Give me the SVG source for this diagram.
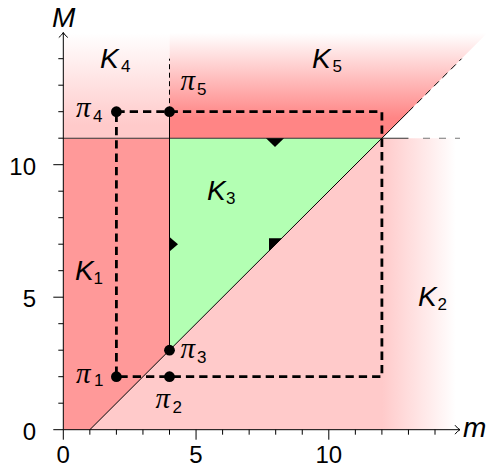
<svg xmlns="http://www.w3.org/2000/svg" width="486" height="467" viewBox="0 0 486 467">
<defs>
<style>
.ax{stroke:#000;stroke-width:1;fill:none}
.tk{stroke:#000;stroke-width:1}
.num{font-family:"Liberation Sans",Arial,sans-serif;font-size:24px;fill:#000}
.k{font-family:"Liberation Sans",Arial,sans-serif;font-style:italic;font-size:28px;fill:#000}
.sub{font-family:"Liberation Sans",Arial,sans-serif;font-style:normal;font-size:17px}
.pi{font-family:"Liberation Serif","Times New Roman",serif;font-style:italic;font-size:29px;fill:#000}
.dash{stroke:#000;stroke-width:2.8;stroke-dasharray:8.3 5;fill:none}
.pt{fill:#000}
</style>
<linearGradient id="g2" gradientUnits="userSpaceOnUse" x1="382" y1="0" x2="456" y2="0">
<stop offset="0" stop-color="#ffcaca"/><stop offset="1" stop-color="#ffffff"/>
</linearGradient>
<linearGradient id="g4" gradientUnits="userSpaceOnUse" x1="0" y1="125" x2="0" y2="33">
<stop offset="0" stop-color="#ffcaca"/><stop offset="1" stop-color="#ffffff"/>
</linearGradient>
<linearGradient id="g5" gradientUnits="userSpaceOnUse" x1="0" y1="118" x2="0" y2="33">
<stop offset="0" stop-color="#ff8585"/><stop offset="1" stop-color="#ffffff"/>
</linearGradient>
</defs>
<g id="regions">
<polygon id="K2-area" points="89.85,429.7 381.9,138.2 470,138.2 470,429.7" fill="url(#g2)"/>
<polygon id="K4-area" points="63.3,138.2 169.5,138.2 169.5,32.2 63.3,32.2" fill="url(#g4)"/>
<polygon id="K5-area" points="169.5,138.2 381.9,138.2 488.1,32.2 169.5,32.2" fill="url(#g5)"/>
<polygon id="K1-area" points="63.3,429.7 89.85,429.7 169.5,350.2 169.5,138.2 63.3,138.2" fill="#ff9999"/>
<polygon id="K3-area" points="169.5,350.2 169.5,138.2 381.9,138.2" fill="#b3ffb3"/>
</g>
<g id="connectors">
<line x1="63.3" y1="138.2" x2="408.45" y2="138.2" stroke="#333" stroke-width="1.1"/>
<line x1="423" y1="138.2" x2="460" y2="138.2" stroke="#777" stroke-width="1.1" stroke-dasharray="7 9"/>
<line x1="89.85" y1="429.7" x2="408.45" y2="111.7" stroke="#000" stroke-width="1"/>
<line x1="408.45" y1="111.7" x2="461.55" y2="58.7" stroke="#000" stroke-width="1" stroke-dasharray="7 5"/>
<line x1="169.5" y1="350.2" x2="169.5" y2="111.7" stroke="#000" stroke-width="1"/>
<line x1="169.5" y1="111.7" x2="169.5" y2="58.7" stroke="#000" stroke-width="1" stroke-dasharray="5 3.5"/>
<path class="dash" d="M116.4,111.7 H381.9 V376.7 H116.4 Z"/>
<polygon points="266,138.2 284,138.2 275,147" fill="#000"/>
<polygon points="169.5,237 169.5,251.4 178,244.2" fill="#000"/>
<polygon points="269,238.2 282,238.2 269,251.2" fill="#000"/>
</g>
<g id="axes">
<line class="ax" x1="63.3" y1="429.7" x2="460" y2="429.7"/>
<line class="ax" x1="63.3" y1="429.7" x2="63.3" y2="32.5"/>
<path class="ax" d="M455,425.2 Q457.5,428.5 460,429.7 Q457.5,431 455,434.2"/>
<path class="ax" d="M58.8,37.5 Q62,35 63.3,32.5 Q64.6,35 67.8,37.5"/>
<g class="tk">
<line x1="89.85" y1="429.7" x2="89.85" y2="434.7"/><line x1="116.4" y1="429.7" x2="116.4" y2="434.7"/><line x1="142.95" y1="429.7" x2="142.95" y2="434.7"/><line x1="169.5" y1="429.7" x2="169.5" y2="434.7"/>
<line x1="222.6" y1="429.7" x2="222.6" y2="434.7"/><line x1="249.15" y1="429.7" x2="249.15" y2="434.7"/><line x1="275.7" y1="429.7" x2="275.7" y2="434.7"/><line x1="302.25" y1="429.7" x2="302.25" y2="434.7"/>
<line x1="355.35" y1="429.7" x2="355.35" y2="434.7"/><line x1="381.9" y1="429.7" x2="381.9" y2="434.7"/><line x1="408.45" y1="429.7" x2="408.45" y2="434.7"/><line x1="435" y1="429.7" x2="435" y2="434.7"/>
<line x1="63.3" y1="429.7" x2="63.3" y2="439.7"/><line x1="196.05" y1="429.7" x2="196.05" y2="439.7"/><line x1="328.8" y1="429.7" x2="328.8" y2="439.7"/>
<line x1="58.3" y1="403.2" x2="63.3" y2="403.2"/><line x1="58.3" y1="376.7" x2="63.3" y2="376.7"/><line x1="58.3" y1="350.2" x2="63.3" y2="350.2"/><line x1="58.3" y1="323.7" x2="63.3" y2="323.7"/>
<line x1="58.3" y1="270.7" x2="63.3" y2="270.7"/><line x1="58.3" y1="244.2" x2="63.3" y2="244.2"/><line x1="58.3" y1="217.7" x2="63.3" y2="217.7"/><line x1="58.3" y1="191.2" x2="63.3" y2="191.2"/>
<line x1="58.3" y1="138.2" x2="63.3" y2="138.2"/><line x1="58.3" y1="111.7" x2="63.3" y2="111.7"/><line x1="58.3" y1="85.2" x2="63.3" y2="85.2"/><line x1="58.3" y1="58.7" x2="63.3" y2="58.7"/>
<line x1="53.3" y1="429.7" x2="63.3" y2="429.7"/><line x1="53.3" y1="297.2" x2="63.3" y2="297.2"/><line x1="53.3" y1="164.7" x2="63.3" y2="164.7"/>
</g>
<text class="num" x="63.3" y="463" text-anchor="middle">0</text>
<text class="num" x="196" y="463" text-anchor="middle">5</text>
<text class="num" x="328.8" y="463" text-anchor="middle">10</text>
<text class="num" x="36" y="440" text-anchor="end">0</text>
<text class="num" x="36" y="307" text-anchor="end">5</text>
<text class="num" x="36" y="174.5" text-anchor="end">10</text>
<text class="k" x="52" y="27">M</text>
<text class="k" x="463" y="437">m</text>
</g>
<g id="K1"><text class="k" x="75" y="280">K<tspan class="sub" x="93.5" y="284">1</tspan></text></g>
<g id="K2"><text class="k" x="418" y="306">K<tspan class="sub" x="437.5" y="310">2</tspan></text></g>
<g id="K3"><text class="k" x="207" y="200">K<tspan class="sub" x="226" y="204">3</tspan></text></g>
<g id="K4"><text class="k" x="100" y="68">K<tspan class="sub" x="121" y="72">4</tspan></text></g>
<g id="K5"><text class="k" x="312" y="68">K<tspan class="sub" x="332.5" y="72">5</tspan></text></g>
<g id="pi1"><circle class="pt" cx="116.4" cy="376.7" r="5.4"/><text class="pi" x="76" y="383">π<tspan class="sub" x="94" y="386">1</tspan></text></g>
<g id="pi2"><circle class="pt" cx="169.5" cy="376.7" r="5.4"/><text class="pi" x="155.5" y="408">π<tspan class="sub" x="172.5" y="413">2</tspan></text></g>
<g id="pi3"><circle class="pt" cx="169.5" cy="350.2" r="5.4"/><text class="pi" x="180.5" y="358">π<tspan class="sub" x="197" y="363">3</tspan></text></g>
<g id="pi4"><circle class="pt" cx="116.4" cy="111.7" r="5.4"/><text class="pi" x="76" y="117">π<tspan class="sub" x="93" y="122">4</tspan></text></g>
<g id="pi5"><circle class="pt" cx="169.5" cy="111.7" r="5.4"/><text class="pi" x="180.5" y="90">π<tspan class="sub" x="197" y="95">5</tspan></text></g>
</svg>
